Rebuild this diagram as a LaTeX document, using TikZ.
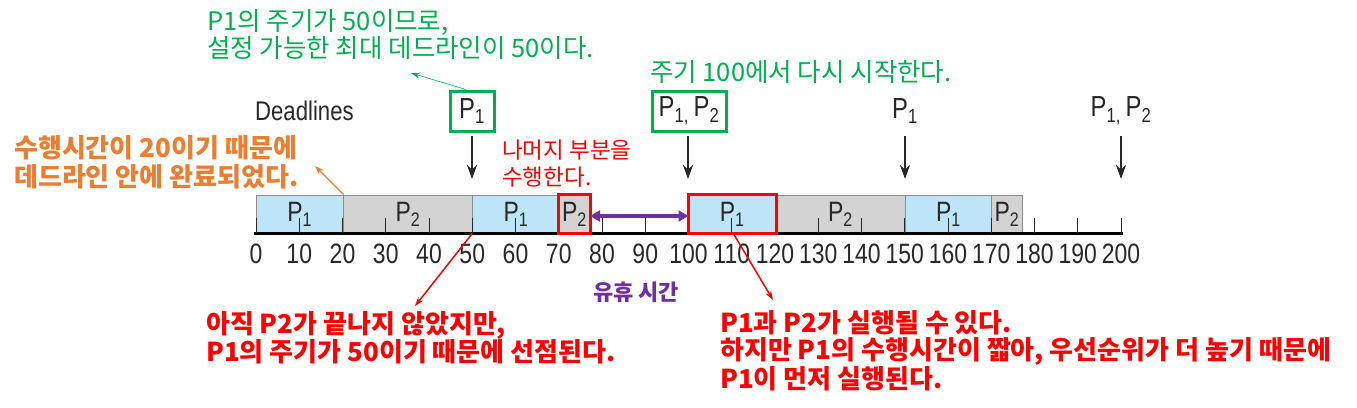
\documentclass[tikz,border=0pt]{standalone}
\usepackage{fontspec}
\setmainfont{Liberation Sans}
\newfontfamily\kofont{Noto Sans CJK KR}
\newfontfamily\figfont{Liberation Sans}[FakeStretch=0.82]
\usepackage{tikz}
\usetikzlibrary{arrows.meta}

\definecolor{pblue}{RGB}{190,229,247}
\definecolor{pgray}{RGB}{211,211,211}
\definecolor{edgegray}{RGB}{140,140,140}
\definecolor{notegreen}{RGB}{0,176,80}
\definecolor{noteorange}{RGB}{237,125,49}
\definecolor{notered}{RGB}{255,0,0}
\definecolor{notepurple}{RGB}{112,48,160}
\definecolor{labgray}{RGB}{40,40,40}

\newcommand{\pn}[1]{P\textsubscript{#1}}

\tikzset{
  seg/.style={draw=edgegray, line width=1pt, minimum height=38pt, inner sep=0pt,
    font=\figfont\fontsize{28}{30}\selectfont, text=labgray},
  p1seg/.style={seg, fill=pblue},
  p2seg/.style={seg, fill=pgray},
  dlab/.style={font=\figfont\fontsize{29}{31}\selectfont, text=labgray, inner sep=0pt,
    minimum height=40pt},
  dlgreen/.style={dlab, draw=notegreen, line width=3pt},
  dlarrow/.style={-{Stealth[length=14pt,width=10pt]}, line width=2.2pt, labgray},
  numlab/.style={font=\figfont\fontsize{28}{30}\selectfont, text=labgray, inner sep=0pt},
  tickline/.style={line width=1pt, labgray},
  kotext/.style={font=\kofont\fontsize{25.5}{27.5}\selectfont, align=left, inner sep=0pt},
  redbox/.style={draw=notered, line width=3pt},
  thinarrow/.style={-{Stealth[length=9pt,width=6pt]}, line width=1pt},
}

\begin{document}
\begin{tikzpicture}[x=1pt, y=-1pt]
  \useasboundingbox (0,0) rectangle (1357,407);

  % time line: t -> 256 + 4.325 t
  \foreach \a/\b/\k/\nm in {0/20/1/s1, 20/50/2/s2, 50/70/1/s3, 70/77/2/s4,
                             100/120/1/s5, 120/150/2/s6, 150/170/1/s7, 170/177/2/s8} {
    \pgfmathsetmacro\xa{256+4.325*\a}
    \pgfmathsetmacro\segw{4.325*(\b-\a)}
    \node[p\k seg, minimum width=\segw pt, anchor=west] (\nm) at (\xa,214) {\pn{\k}};
  }
  \draw[line width=3pt, black] (254,233) -- (1123,233);
  \foreach \t in {0,10,...,200} {
    \draw[tickline] ({256+4.325*\t},233) -- ++(0,-15);
    \node[numlab] at ({256+4.325*\t},254) {\t};
  }

  % deadlines
  \node[font=\figfont\fontsize{27}{29}\selectfont, text=labgray, anchor=west, inner sep=0pt] (dltitle) at (255,111) {Deadlines};
  \node[dlgreen, minimum width=44pt] (dl50) at (472,111) {\pn{1}};
  \node[dlgreen, minimum width=74pt] (dl100) at (689,111) {\pn{1,}\,\pn{2}};
  \node[dlab] (dl150) at (905,111) {\pn{1}};
  \node[dlab] (dl200) at (1121,111) {\pn{1,}\,\pn{2}};
  \foreach \n/\x in {dl50/472, dl100/688, dl150/905, dl200/1121} {
    \coordinate (h\n) at (\x,179);
    \draw[dlarrow] (\x,136) -- (h\n);
  }

  % red boxes and idle time
  \draw[redbox] (s4.south west) rectangle (s4.north east);
  \draw[redbox] (s5.south west) rectangle (s5.north east);
  \draw[{Triangle[length=10pt,width=11pt]}-{Triangle[length=10pt,width=11pt]}, line width=3.5pt, notepurple]
    ([yshift=-2pt]s4.east) -- ([yshift=-2pt]s5.west);
  \node[kotext, font=\kofont\bfseries\fontsize{22}{24}\selectfont, text=notepurple, anchor=west] (idle) at (593,292) {유휴 시간};

  % notes
  \node[kotext, text=notegreen, anchor=north west] (ng1) at (207,9)
    {P1의 주기가 50이므로,\\설정 가능한 최대 데드라인이 50이다.};
  \node[kotext, text=notegreen, anchor=west] (ng2) at (650,72) {주기 100에서 다시 시작한다.};
  \node[kotext, text=noteorange, font=\kofont\bfseries\fontsize{26}{29}\selectfont, anchor=north west] (no1) at (14,135)
    {수행시간이 20이기 때문에\\데드라인 안에 완료되었다.};
  \node[kotext, text=notered, font=\kofont\fontsize{22.5}{27}\selectfont, anchor=north west] (nr0) at (502,140)
    {나머지 부분을\\수행한다.};
  \node[kotext, text=notered, font=\kofont\bfseries\fontsize{26}{28}\selectfont, anchor=north west] (nr1) at (206,311)
    {아직 P2가 끝나지 않았지만,\\P1의 주기가 50이기 때문에 선점된다.};
  \node[kotext, text=notered, font=\kofont\bfseries\fontsize{26}{27.5}\selectfont, anchor=north west] (nr2) at (720,310)
    {P1과 P2가 실행될 수 있다.\\하지만 P1의 수행시간이 짧아, 우선순위가 더 높기 때문에\\P1이 먼저 실행된다.};

  % note arrows
  \coordinate (tg) at (411,73);
  \coordinate (to) at (315,166);
  \coordinate (tr1) at (415,306);
  \coordinate (tr2) at (773,300);
  \draw[thinarrow, notegreen, line width=0.6pt] ([xshift=-6pt]dl50.north) -- (tg);
  \draw[thinarrow, noteorange, line width=1.3pt] (s1.north east) -- (to);
  \draw[thinarrow, notered, line width=1.5pt] (s3.south west) -- (tr1);
  \draw[thinarrow, notered, line width=1.5pt] (733,233) -- (tr2);
\end{tikzpicture}
\end{document}
